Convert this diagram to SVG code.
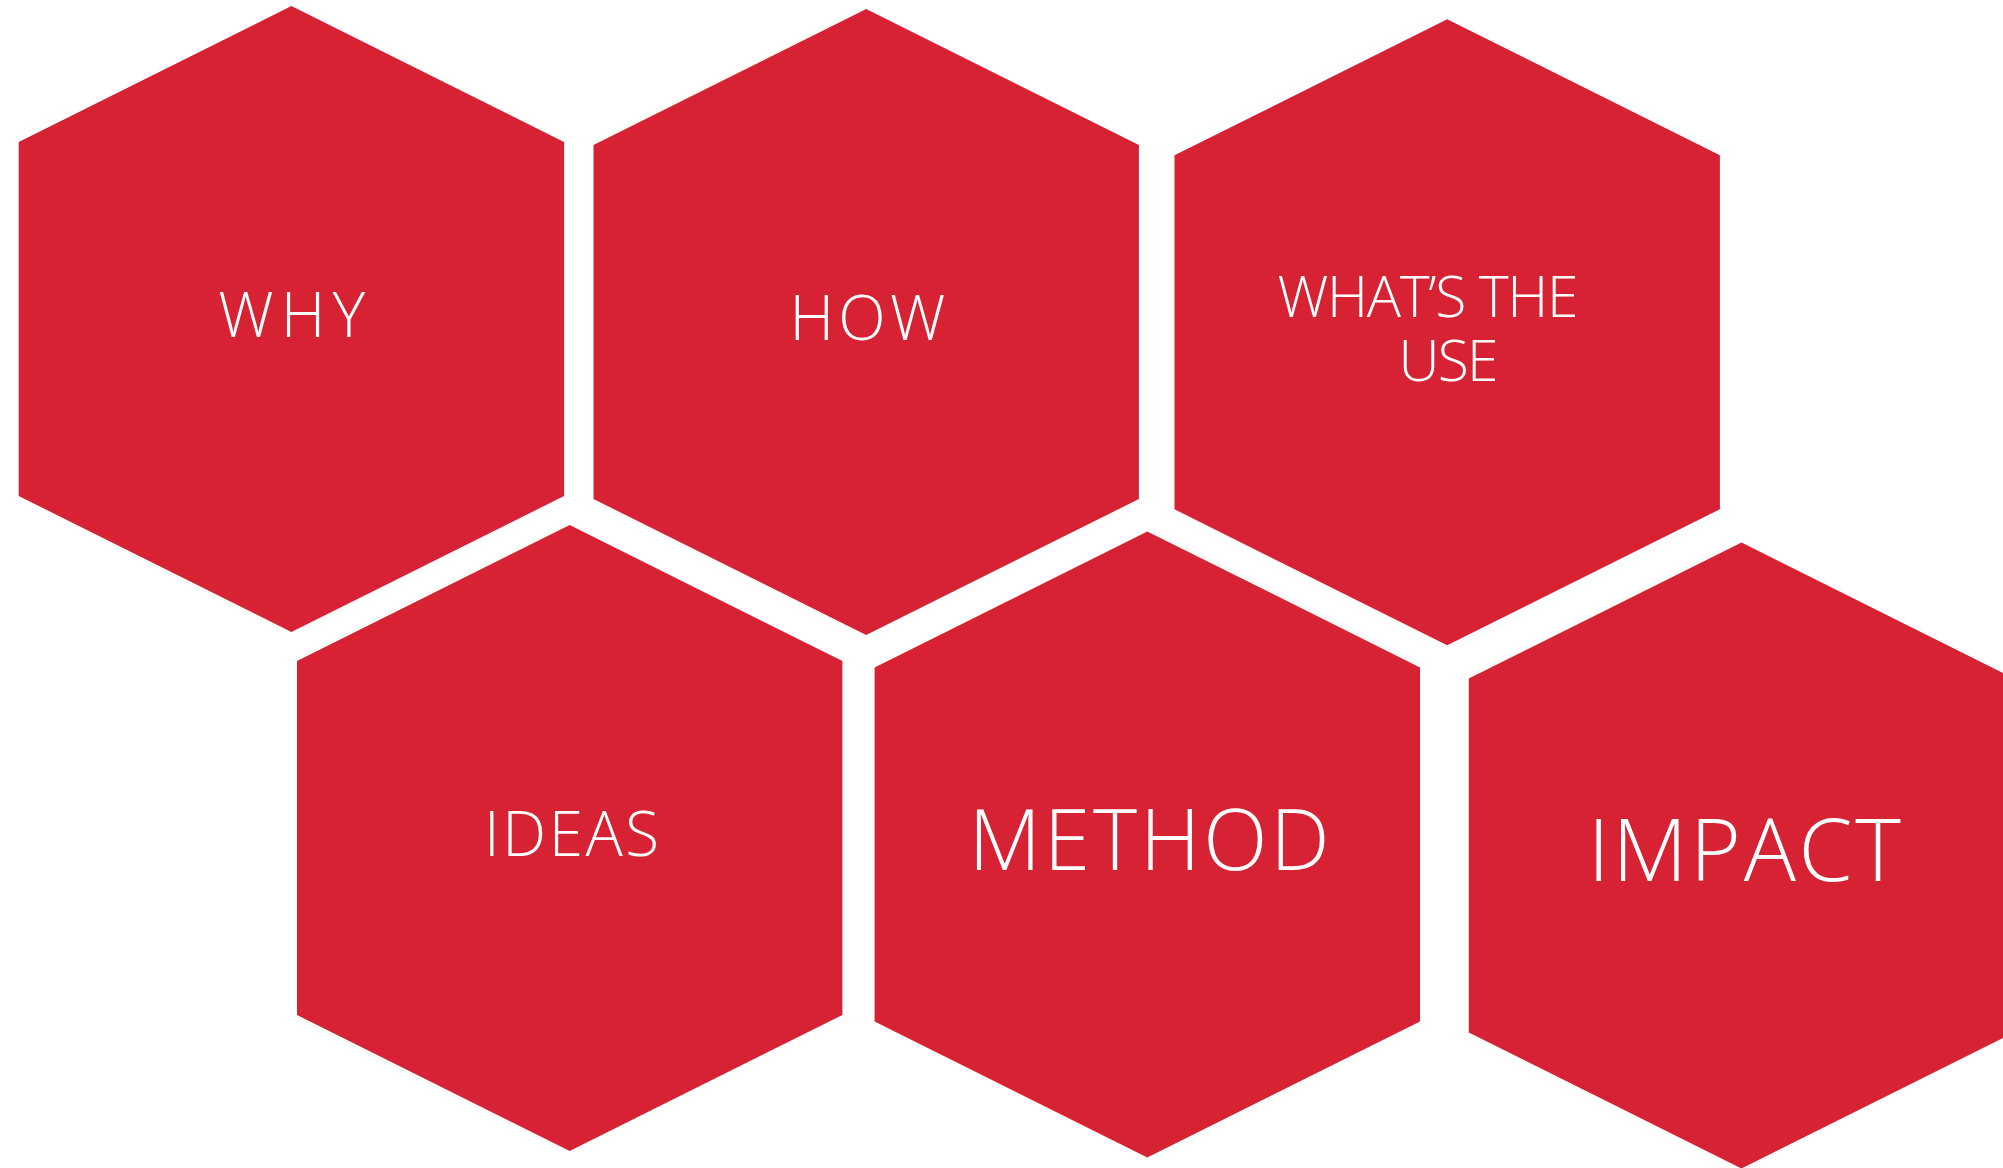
<svg xmlns="http://www.w3.org/2000/svg" width="2003" height="1168" viewBox="0 0 2003 1168">
<style>
.hex{fill:#D72234;}
.lbl{fill:#FFFFFF;font-family:"Open Sans",Lato,"Liberation Sans",sans-serif;font-weight:300;text-anchor:middle;}
</style>
<defs>
<polygon id="hexshape" points="0,0 272.7,136 272.7,490 0,626 -272.7,490 -272.7,136"/>
</defs>
<rect width="2003" height="1168" fill="#FFFFFF"/>
<g id="node-why">
<use href="#hexshape" class="hex" x="291.4" y="6"/>
<text class="lbl" x="291.8" y="337" font-size="62" textLength="147" lengthAdjust="spacing">WHY</text>
</g>
<g id="node-how">
<use href="#hexshape" class="hex" x="866.2" y="9"/>
<text class="lbl" x="867.4" y="340" font-size="62" textLength="156" lengthAdjust="spacing">HOW</text>
</g>
<g id="node-whats-the-use">
<use href="#hexshape" class="hex" x="1447.2" y="19.3"/>
<text class="lbl" x="1428" y="317" font-size="57" textLength="301" lengthAdjust="spacing">WHAT’S THE</text>
<text class="lbl" x="1448.6" y="381" font-size="57" textLength="100" lengthAdjust="spacing">USE</text>
</g>
<g id="node-ideas">
<use href="#hexshape" class="hex" x="569.7" y="525"/>
<text class="lbl" x="571.6" y="856" font-size="62" textLength="175" lengthAdjust="spacing">IDEAS</text>
</g>
<g id="node-method">
<use href="#hexshape" class="hex" x="1147.3" y="531.4"/>
<text class="lbl" x="1149" y="870" font-size="84" textLength="361" lengthAdjust="spacing">METHOD</text>
</g>
<g id="node-impact">
<use href="#hexshape" class="hex" x="1741.5" y="542.5"/>
<text class="lbl" x="1744.3" y="881.4" font-size="87" textLength="313" lengthAdjust="spacing">IMPACT</text>
</g>
<g id="connectors"></g>
</svg>
